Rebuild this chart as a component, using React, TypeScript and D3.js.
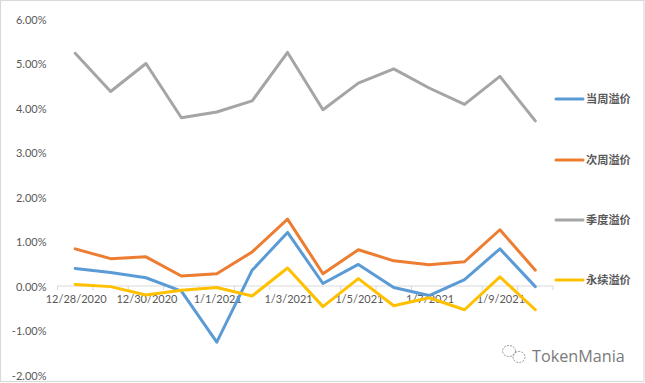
import React from "react";
import * as d3 from "d3";

const dates = ["12/28/2020","12/29/2020","12/30/2020","12/31/2020","1/1/2021","1/2/2021","1/3/2021","1/4/2021","1/5/2021","1/6/2021","1/7/2021","1/8/2021","1/9/2021","1/10/2021"];
const tickLabels = ["12/28/2020","12/30/2020","1/1/2021","1/3/2021","1/5/2021","1/7/2021","1/9/2021"];
const yTicks = [-2,-1,0,1,2,3,4,5,6];
const current = [0.41,0.32,0.2,-0.1,-1.25,0.37,1.22,0.07,0.5,-0.02,-0.2,0.16,0.85,0.0];
const next = [0.85,0.63,0.67,0.24,0.29,0.78,1.52,0.29,0.83,0.58,0.49,0.56,1.28,0.37];
const quarter = [5.25,4.39,5.02,3.8,3.93,4.18,5.27,3.98,4.58,4.9,4.47,4.1,4.73,3.73];
const perpetual = [0.05,0,-0.19,-0.08,-0.02,-0.21,0.42,-0.45,0.18,-0.43,-0.25,-0.52,0.22,-0.52];
const seriesNames = ["当周溢价","次周溢价","季度溢价","永续溢价"];
const seriesValues = [current,next,quarter,perpetual];
const colors = ["#5B9BD5","#ED7D31","#A5A5A5","#FFC000"];
const legendY = [99,160,220,280];

const font = "Lato, sans-serif";

export default function App() {
  const x = d3.scaleBand<string>().domain(dates).range([57.5,553]);
  const y = d3.scaleLinear().domain([-2,6]).range([375.5,20]);
  const cx = (d:string) => (x(d) as number) + x.bandwidth()/2;
  const line = d3.line<number>().x((_,i)=>cx(dates[i])).y(v=>y(v));
  return (
    <svg width={645} height={383} style={{position:"fixed",left:0,top:0,background:"#fff"}}>
      <rect x={0.5} y={0.5} width={643.5} height={381} fill="#fff" stroke="#D9D9D9" strokeWidth={1.2}/>
      {yTicks.map(t=>(
        <text key={t} x={46.5} y={y(t)+4} textAnchor="end" fontFamily={font} fontSize={11} fill="#595959">{t.toFixed(2)}%</text>
      ))}
      <line x1={57.5} x2={553} y1={286} y2={286} stroke="#D9D9D9"/>
      {d3.range(0,15).map(i=>{
        const px = 57.5 + i*x.step();
        return <line key={i} x1={px} x2={px} y1={286} y2={290} stroke="#D9D9D9"/>;
      })}
      {tickLabels.map(t=>(
        <text key={t} x={cx(t)+1} y={303} textAnchor="middle" fontFamily={font} fontSize={11} fill="#595959">{t}</text>
      ))}
      {seriesValues.map((s,i)=>(
        <path key={i} d={line(s) as string} fill="none" stroke={colors[i]} strokeWidth={3} strokeLinecap="round" strokeLinejoin="round"/>
      ))}
      {seriesNames.map((n,i)=>(
        <g key={n}>
          <line x1={556} x2={583} y1={legendY[i]} y2={legendY[i]} stroke={colors[i]} strokeWidth={3} strokeLinecap="round"/>
          <text x={586} y={legendY[i]+4} fontFamily="'Noto Sans CJK SC'" fontWeight={700} fontSize={11.2} fill="#595959">{n}</text>
        </g>
      ))}
      <g fill="none" stroke="#8a8a8a" strokeWidth={0.9} strokeDasharray="2 1.2">
        <ellipse cx={509} cy={351} rx={6.5} ry={5.5}/>
        <ellipse cx={519} cy={357} rx={6} ry={5.5}/>
      </g>
      <text x={532} y={362} fontFamily="'Open Sans', sans-serif" fontSize={16.2} fill="#7a7a7a">TokenMania</text>
    </svg>
  );
}
